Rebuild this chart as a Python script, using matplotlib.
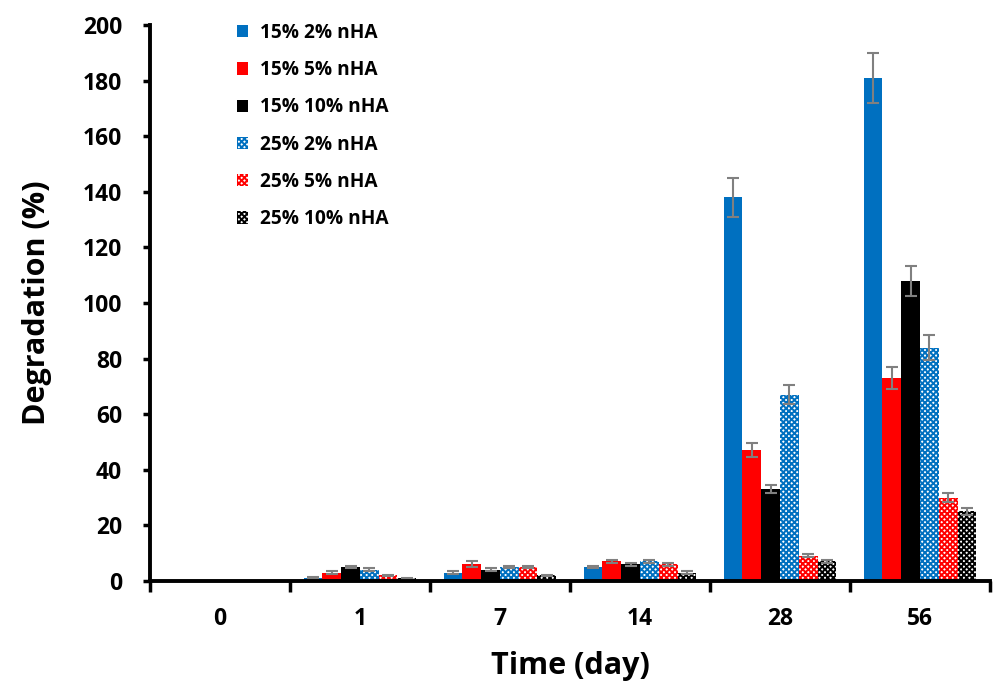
import numpy as np
import matplotlib.pyplot as plt

plt.rcParams['font.family'] = ['Open Sans', 'DejaVu Sans']
plt.rcParams['font.weight'] = 'bold'
plt.rcParams['axes.labelweight'] = 'bold'
plt.rcParams['hatch.linewidth'] = 1.4

days = ['0', '1', '7', '14', '28', '56']
series = ['15% 2% nHA', '15% 5% nHA', '15% 10% nHA',
          '25% 2% nHA', '25% 5% nHA', '25% 10% nHA']
vals = [
    [0, 1, 3, 5, 138, 181],
    [0, 3, 6, 7, 47, 73],
    [0, 5, 4, 6, 33, 108],
    [0, 4, 5, 7, 67, 84],
    [0, 2, 5, 6, 9, 30],
    [0, 1, 2, 3, 7, 25],
]
errs = [
    [0, 0.3, 0.5, 0.5, 7, 9],
    [0, 0.5, 1, 0.5, 2.5, 4],
    [0, 0.5, 0.5, 0.5, 1.5, 5.5],
    [0, 0.5, 0.5, 0.5, 3.5, 4.5],
    [0, 0.3, 0.5, 0.5, 0.5, 1.5],
    [0, 0.2, 0.3, 0.5, 0.5, 1.2],
]
cols = ['#0070c0', '#ff0000', '#000000', '#0070c0', '#ff0000', '#000000']
checker = [False, False, False, True, True, True]

fig = plt.figure(figsize=(9.93, 6.81), dpi=100)
ax = fig.add_axes([0.151, 0.147, 0.846, 0.816])

x = np.arange(len(days))
w = 0.134
for i in range(6):
    pos = x + (i - 2.5) * w
    if checker[i]:
        ax.bar(pos, vals[i], w, color='white', edgecolor=cols[i], hatch='xxxxxx',
               linewidth=0, label=series[i])
    else:
        ax.bar(pos, vals[i], w, color=cols[i], linewidth=0, label=series[i])
    ax.errorbar(pos, vals[i], yerr=errs[i], fmt='none', ecolor='#808080',
                elinewidth=1.5, capsize=4, capthick=1.5)

ax.set_xlim(-0.5, 5.5)
ax.set_ylim(0, 200)
ax.set_yticks(np.arange(0, 201, 20))
ax.set_xticks(np.arange(-0.5, 5.6, 1))
ax.set_xticklabels([])
ax.set_xticks(x, minor=True)
ax.set_xticklabels(days, minor=True)
ax.tick_params(axis='x', which='minor', length=0, pad=19, labelsize=16.5)
ax.tick_params(axis='x', which='major', length=8, width=2.5, direction='out')
ax.tick_params(axis='y', length=5, width=2.5, direction='out', labelsize=16.5,
               pad=15)
for s in ['top', 'right']:
    ax.spines[s].set_visible(False)
for s in ['left', 'bottom']:
    ax.spines[s].set_linewidth(2.8)

ax.set_ylabel('Degradation (%)', fontsize=22, labelpad=22)
ax.set_xlabel('Time (day)', fontsize=22, labelpad=14)

ax.legend(loc='upper left', bbox_to_anchor=(0.083, 1.035), frameon=False,
          fontsize=13.8, handlelength=0.6, handleheight=0.6, handletextpad=0.6,
          labelspacing=0.9)

fig.savefig('out.png', dpi=100)
